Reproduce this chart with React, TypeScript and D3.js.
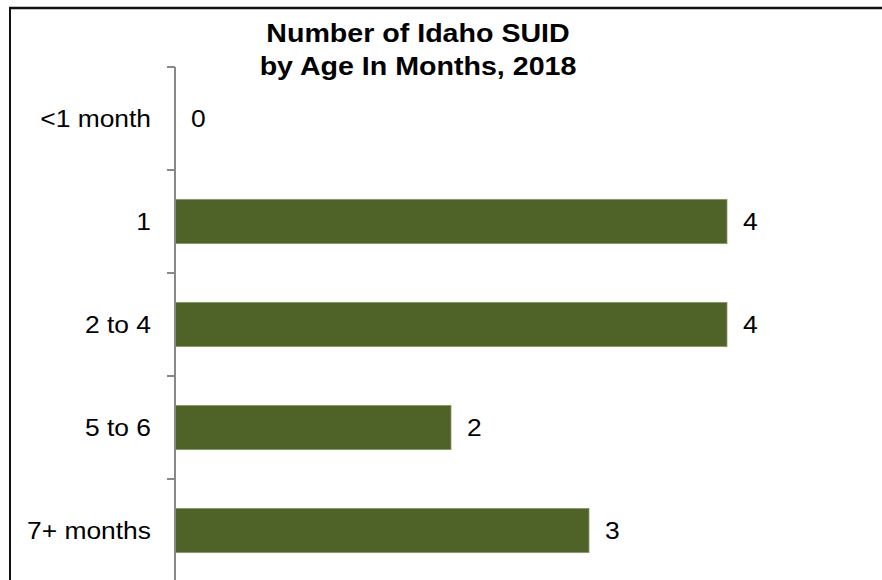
import React from "react";
import * as d3 from "d3";

const categories = ["<1 month", "1", "2 to 4", "5 to 6", "7+ months"];
const values = [0, 4, 4, 2, 3];
const titleLines = ["Number of Idaho SUID", "by Age In Months, 2018"];

const W = 882;
const H = 580;
const SX = 1.1;

function SText(props: { x: number; y: number; anchor?: string; size: number; bold?: boolean; children: React.ReactNode }) {
  return (
    <text
      transform={`translate(${props.x},${props.y}) scale(${SX},1)`}
      textAnchor={props.anchor || "start"}
      fontFamily="Liberation Sans, Arial, sans-serif"
      fontWeight={props.bold ? "bold" : "normal"}
      fontSize={props.size}
      fill="#000"
    >
      {props.children}
    </text>
  );
}

export default function App() {
  const y = d3
    .scaleBand<string>()
    .domain(categories)
    .range([67, 582])
    .paddingInner(0.57)
    .paddingOuter(0.285);
  const x = d3.scaleLinear().domain([0, 4]).range([175, 727]);
  const step = y.step();
  const tickYs = categories.map((c) => (y(c) as number) - (step - y.bandwidth()) / 2);

  return (
    <svg
      width={W}
      height={H}
      style={{ position: "absolute", left: 0, top: 0, background: "#fff" }}
    >
      <rect x={0} y={0} width={W} height={H} fill="#fff" />
      {/* frame */}
      <line x1={9} y1={8} x2={W} y2={8} stroke="#111" strokeWidth={2.5} />
      <line x1={10} y1={8} x2={10} y2={H} stroke="#111" strokeWidth={2} />
      {/* title */}
      {titleLines.map((t, i) => (
        <SText key={i} x={418} y={42 + i * 33} anchor="middle" size={26} bold>
          {t}
        </SText>
      ))}
      {/* bars */}
      {categories.map((c, i) => (
        <rect
          key={c}
          x={x(0)}
          y={y(c) as number}
          width={x(values[i]) - x(0)}
          height={y.bandwidth()}
          fill="#4f6228"
          stroke="#8a9a6a"
          strokeWidth={values[i] > 0 ? 0.8 : 0}
        />
      ))}
      {/* axis */}
      <line x1={175} y1={67} x2={175} y2={H} stroke="#888" strokeWidth={2} />
      {tickYs.map((t, i) => (
        <line key={i} x1={167} y1={t} x2={175} y2={t} stroke="#888" strokeWidth={2} />
      ))}
      {/* category labels */}
      {categories.map((c) => (
        <SText key={c} x={151} y={(y(c) as number) + y.bandwidth() / 2 + 8.5} anchor="end" size={24}>
          {c}
        </SText>
      ))}
      {/* value labels */}
      {categories.map((c, i) => (
        <SText key={c} x={x(values[i]) + 16} y={(y(c) as number) + y.bandwidth() / 2 + 8.5} size={24}>
          {values[i]}
        </SText>
      ))}
    </svg>
  );
}
